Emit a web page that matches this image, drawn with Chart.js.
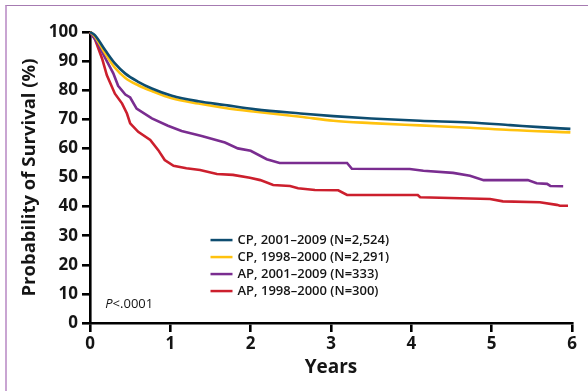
<!DOCTYPE html>
<html>
<head>
<meta charset="utf-8">
<script src="https://cdn.jsdelivr.net/npm/chart.js@4/dist/chart.umd.min.js"></script>
<style>
    html, body { margin: 0; padding: 0; background: #fff; }
    #wrap { position: relative; width: 588px; height: 391px; overflow: hidden; }
    #frame {
        position: absolute; left: 5px; top: 5px; width: 600px; height: 400px;
        border-left: 2px solid #c9a5d2; border-top: 1px solid #a67bb1;
    }
    #chart { position: absolute; left: 0; top: 0; }
</style>
</head>
<body>
<div id="wrap">
    <div id="frame"></div>
    <canvas id="chart" width="588" height="391"></canvas>
</div>
<script>
// ================================================================
// DATOS
// ================================================================
const SERIES_LABELS = [
    'CP, 2001–2009 (N=2,524)',
    'CP, 1998–2000 (N=2,291)',
    'AP, 2001–2009 (N=333)',
    'AP, 1998–2000 (N=300)'
];

// CP, 2001-2009
const cpNewYears = [0, 0.06, 0.19, 0.31, 0.44, 0.6, 0.77, 1.02, 1.35, 1.68, 2.06, 2.62, 3.03, 3.5, 4.11, 4.73, 5.23, 5.6, 5.98];
const cpNewSurv  = [100, 98.9, 93.7, 89.2, 85.7, 82.9, 80.6, 78.1, 76.2, 74.9, 73.4, 72.0, 71.1, 70.3, 69.5, 68.9, 68.0, 67.3, 66.7];

// CP, 1998-2000
const cpOldYears = [0, 0.06, 0.19, 0.31, 0.44, 0.6, 0.77, 1.02, 1.35, 1.68, 2.06, 2.62, 3.03, 3.5, 4.11, 4.73, 5.23, 5.98];
const cpOldSurv  = [100, 98.5, 92.6, 87.7, 84.2, 81.7, 79.7, 77.2, 75.4, 73.9, 72.6, 70.9, 69.5, 68.7, 67.9, 67.1, 66.3, 65.5];

// AP, 2001-2009
const apNewYears = [0, 0.1, 0.19, 0.29, 0.35, 0.44, 0.5, 0.58, 0.77, 0.97, 1.14, 1.39, 1.68, 1.84, 2.0, 2.2, 2.36, 3.2, 3.26, 3.98, 4.15, 4.52, 4.73, 4.9, 5.45, 5.56, 5.69, 5.73, 5.89];
const apNewSurv  = [100, 96, 91, 85.8, 81.5, 78.5, 77.5, 73.7, 70.3, 67.8, 66.0, 64.3, 62.0, 60.0, 59.2, 56.3, 55.0, 55.0, 53.0, 52.9, 52.3, 51.6, 50.6, 49.1, 49.1, 48.0, 47.8, 47.1, 47.0];

// AP, 1998-2000
const apOldYears = [0, 0.06, 0.15, 0.21, 0.31, 0.4, 0.46, 0.5, 0.6, 0.75, 0.85, 0.93, 1.04, 1.2, 1.37, 1.58, 1.78, 1.99, 2.12, 2.28, 2.49, 2.59, 2.8, 3.09, 3.2, 4.08, 4.11, 4.98, 5.14, 5.6, 5.81, 5.85, 5.95];
const apOldSurv  = [100, 97.7, 90.9, 85.1, 78.8, 75.4, 72.0, 68.6, 65.7, 62.9, 59.4, 56.0, 54.0, 53.2, 52.6, 51.2, 50.9, 49.9, 49.1, 47.4, 47.1, 46.3, 45.7, 45.6, 44.0, 44.0, 43.2, 42.6, 41.8, 41.5, 40.6, 40.3, 40.3];

const X_TICKS = [0, 1, 2, 3, 4, 5, 6];
const Y_TICKS = [0, 10, 20, 30, 40, 50, 60, 70, 80, 90, 100];
const P_TEXT = ['P', '<.0001'];

// ================================================================
// ESTILO
// ================================================================
const COLORS = ['#0e4d70', '#ffc20e', '#7a2d90', '#cc1f2d'];
const FONT = "'Open Sans', 'Noto Sans', sans-serif";
const INK = '#151515';

const toPoints = (xs, ys) => xs.map((x, i) => ({ x, y: ys[i] }));

const datasets = [
    toPoints(cpNewYears, cpNewSurv),
    toPoints(cpOldYears, cpOldSurv),
    toPoints(apNewYears, apNewSurv),
    toPoints(apOldYears, apOldSurv)
].map((data, i) => ({
    label: SERIES_LABELS[i],
    data,
    borderColor: COLORS[i],
    backgroundColor: COLORS[i],
    borderWidth: 2.6,
    pointRadius: 0,
    cubicInterpolationMode: i < 2 ? 'monotone' : 'default',
    tension: 0,
    clip: 6
}));

// Leyenda y valor P dentro del área del gráfico
const annotatePlugin = {
    id: 'annotate',
    afterDatasetsDraw(chart) {
        const { ctx, scales: { x, y } } = chart;
        ctx.save();
        const lx = x.getPixelForValue(1.5);
        const ly = y.getPixelForValue(28.5);
        ctx.font = `600 13px ${FONT}`;
        ctx.textBaseline = 'middle';
        ctx.textAlign = 'left';
        chart.data.datasets.forEach((ds, i) => {
            const yy = ly + i * 17;
            ctx.strokeStyle = ds.borderColor;
            ctx.lineWidth = 2.5;
            ctx.beginPath();
            ctx.moveTo(lx, yy);
            ctx.lineTo(lx + 22, yy);
            ctx.stroke();
            ctx.fillStyle = INK;
            ctx.fillText(ds.label, lx + 27, yy);
        });

        // P<.0001
        const px = x.getPixelForValue(0.19);
        const py = y.getPixelForValue(6.3);
        ctx.font = `italic 13px ${FONT}`;
        ctx.fillText(P_TEXT[0], px, py);
        const w = ctx.measureText(P_TEXT[0]).width;
        ctx.font = `13px ${FONT}`;
        ctx.fillText(P_TEXT[1], px + w, py);
        ctx.restore();
    }
};

new Chart(document.getElementById('chart').getContext('2d'), {
    type: 'line',
    data: { datasets },
    plugins: [annotatePlugin],
    options: {
        responsive: false,
        animation: false,
        layout: { padding: { left: 0, right: 16, top: 32, bottom: 0 } },
        plugins: {
            legend: { display: false },
            tooltip: { enabled: false }
        },
        scales: {
            x: {
                type: 'linear',
                min: 0,
                max: 6,
                afterBuildTicks: s => { s.ticks = X_TICKS.map(v => ({ value: v })); },
                afterFit: s => { s.height = 68; },
                border: { display: true, color: '#000', width: 2.6 },
                grid: { drawOnChartArea: false, drawTicks: true, tickLength: 9, color: '#000', lineWidth: 2.6 },
                ticks: {
                    color: INK,
                    padding: 2,
                    maxRotation: 0,
                    font: { family: FONT, size: 17, weight: '700' }
                },
                title: {
                    display: true,
                    text: 'Years',
                    color: INK,
                    padding: { top: 0, bottom: 12 },
                    font: { family: FONT, size: 19, weight: '700' }
                }
            },
            y: {
                min: 0,
                max: 100,
                afterBuildTicks: s => { s.ticks = Y_TICKS.map(v => ({ value: v })); },
                afterFit: s => { s.width = 90; },
                border: { display: true, color: '#000', width: 2.6 },
                grid: { drawOnChartArea: false, drawTicks: true, tickLength: 8, color: '#000', lineWidth: 2.6 },
                ticks: {
                    color: INK,
                    padding: 4,
                    font: { family: FONT, size: 17, weight: '700' }
                },
                title: {
                    display: true,
                    text: 'Probability of Survival (%)',
                    color: INK,
                    padding: { top: 19, bottom: 0 },
                    font: { family: FONT, size: 18.5, weight: '700' }
                }
            }
        }
    }
});
</script>
</body>
</html>
